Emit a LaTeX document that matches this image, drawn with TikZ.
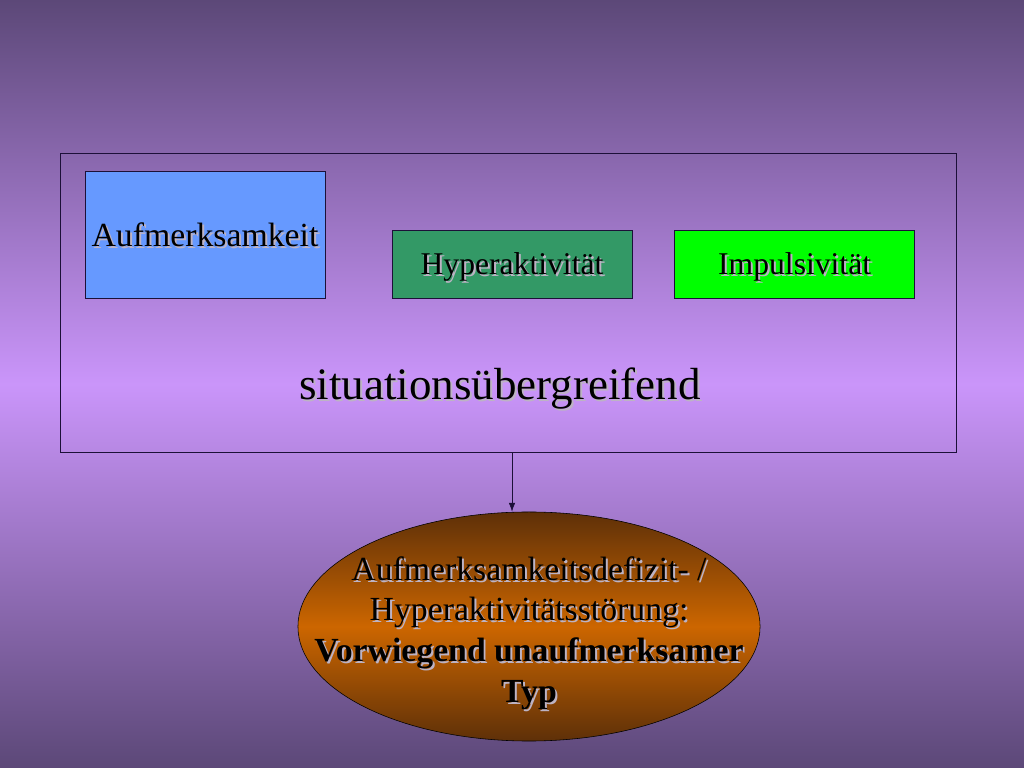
\documentclass[tikz,border=0pt]{standalone}
\usepackage{fontspec}
\setmainfont{Liberation Serif}
\usepackage{xcolor}
\usetikzlibrary{positioning, arrows.meta, shapes.geometric}

\definecolor{bgdark}{HTML}{5C4878}
\definecolor{bglight}{HTML}{CA95FA}
\definecolor{edge}{HTML}{1C1038}
\definecolor{boxblue}{HTML}{6699FF}
\definecolor{boxgreen}{HTML}{339966}
\definecolor{boxlime}{HTML}{00FF00}
\definecolor{ellbrown}{HTML}{5E3008}
\definecolor{ellorange}{HTML}{CC6600}
\definecolor{txtshadow}{HTML}{BDB3C4}
\newcommand{\shd}[1]{\makebox[0pt][l]{\hspace{1.4pt}\raisebox{-1.4pt}{\textcolor{txtshadow}{#1}}}{#1}}

\begin{document}
\begin{tikzpicture}[
    x=0.025cm, y=0.025cm,
    every node/.style = {font=\fontsize{24}{29}\selectfont},
    outerbox/.style = {draw=edge, rectangle, minimum width=22.4cm,
                       minimum height=7.475cm, inner sep=0pt},
    sbox/.style = {draw=edge, rectangle, minimum width=6cm, inner sep=0pt, text depth=0pt},
    small/.style = {font=\fontsize{22.5}{27}\selectfont},
    ell/.style = {draw=black, ellipse, minimum width=11.55cm, minimum height=5.725cm,
                  top color=ellbrown, bottom color=ellbrown, middle color=ellorange},
    arr/.style = {-{Latex[length=2.2mm, width=1.6mm]}, edge},
]
% background
\useasboundingbox (0,0) rectangle (1024,768);
\shade[top color=bgdark, bottom color=bgdark, middle color=bglight] (0,0) rectangle (1024,768);

% outer frame with the three symptoms
\node[outerbox] (crossbox) at (508,465.5) {};
\node[sbox, fill=boxblue, minimum height=3.175cm] (attn) at (205,533.5) {\shd{Aufmerksamkeit}};
\node[sbox, small, fill=boxgreen, minimum height=1.7cm] (hyper) at (512,504) {\shd{Hyperaktivität}};
\node[sbox, small, fill=boxlime, minimum height=1.7cm, right=1.05cm of hyper] (impuls) {\shd{Impulsivität}};
\node[font=\fontsize{32}{38}\selectfont] (situ) at (500,378) {\shd{situationsübergreifend}};

% diagnosis
\node[ell] (adhs) at (529,141.5) {};
\node[align=center] (adhstext) at (529,134) {\shd{Aufmerksamkeitsdefizit- /}\\
    \shd{Hyperaktivitätsstörung:}\\
    \shd{\bfseries Vorwiegend unaufmerksamer}\\
    \shd{\bfseries Typ}};

% Arrows
\draw[arr] ([xshift=0.1cm]crossbox.south) -- ([xshift=0.1cm]crossbox.south |- adhs.north);
\end{tikzpicture}
\end{document}
